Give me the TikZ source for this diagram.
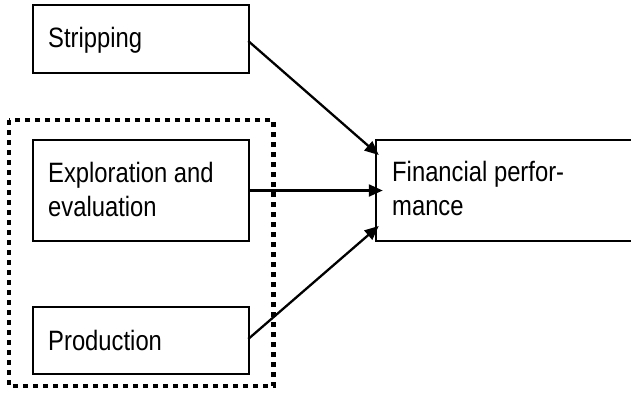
\documentclass[tikz,border=0pt]{standalone}
\usepackage{fontspec}
\setmainfont[FakeStretch=0.85]{Liberation Sans}
\usetikzlibrary{arrows.meta,calc}
\begin{document}
\begin{tikzpicture}[x=1pt,y=-1pt,
  box/.style={draw, line width=2.5pt, rectangle, inner sep=0pt},
  lbl/.style={anchor=base west, inner sep=0pt, align=left, font=\fontsize{28}{33.5}\selectfont},
  conn/.style={line width=2.3pt, -{Triangle[length=14pt,width=12pt]}},
  grp/.style={line width=4.8pt, dash pattern=on 4.8pt off 5.2pt}]
\clip (0,0) rectangle (631,392);
% group outline
\draw[grp] (9,120) rectangle (273.5,386);
% boxes
\node[box, minimum width=216pt, minimum height=68pt] (strip) at (141,39) {};
\node[box, minimum width=216pt, minimum height=101pt] (expl) at (141,190.5) {};
\node[box, minimum width=216pt, minimum height=67pt] (prod) at (141,340.5) {};
\node[box, minimum width=284pt, minimum height=101pt] (fin) at (518,190.5) {};
% labels
\node[lbl] (tstrip) at (48,47) {Stripping};
\node[lbl] (texpl) at (48,216) {Exploration and\\evaluation};
\node[lbl] (tprod) at (48,350) {Production};
\node[lbl] (tfin) at (392,215) {Financial perfor-\\mance};
% connectors
\draw[conn] ($(strip.east)+(-2,2)$) -- ($(fin.west)+(4,-35.5)$);
\draw[conn] (expl.east) -- ($(fin.west)+(8,0)$);
\draw[conn] ($(prod.east)+(-2,-1.5)$) -- ($(fin.west)+(4,35.5)$);
\end{tikzpicture}
\end{document}
